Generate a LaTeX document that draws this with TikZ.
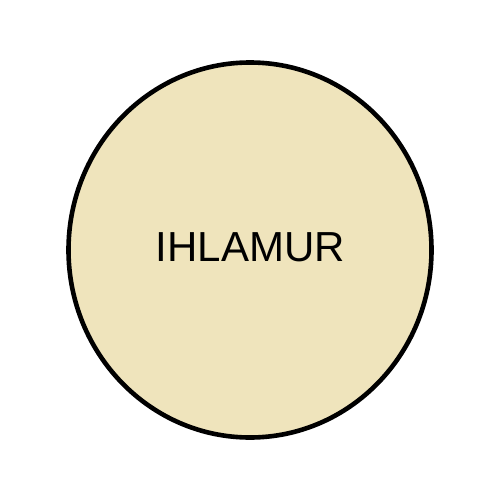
\documentclass[tikz,border=0pt]{standalone}
\usepackage{fontspec}
\setmainfont{Liberation Sans}
\usetikzlibrary{shapes.geometric}
\definecolor{cfill}{RGB}{239,228,188}
\tikzset{disc/.style={draw=black,line width=4.6pt,fill=cfill,ellipse,inner sep=0pt,minimum width=363pt,minimum height=375pt},
         label text/.style={inner sep=0pt,anchor=center,font=\fontsize{42}{42}\selectfont}}
\begin{document}
\begin{tikzpicture}[x=1pt,y=-1pt]
\useasboundingbox (0,0) rectangle (500,500);
\node[disc] (c) at (250,250) {};
\node[label text] (t) at (250.5,247.5) {\vphantom{I}IHLAMUR};
\end{tikzpicture}
\end{document}
